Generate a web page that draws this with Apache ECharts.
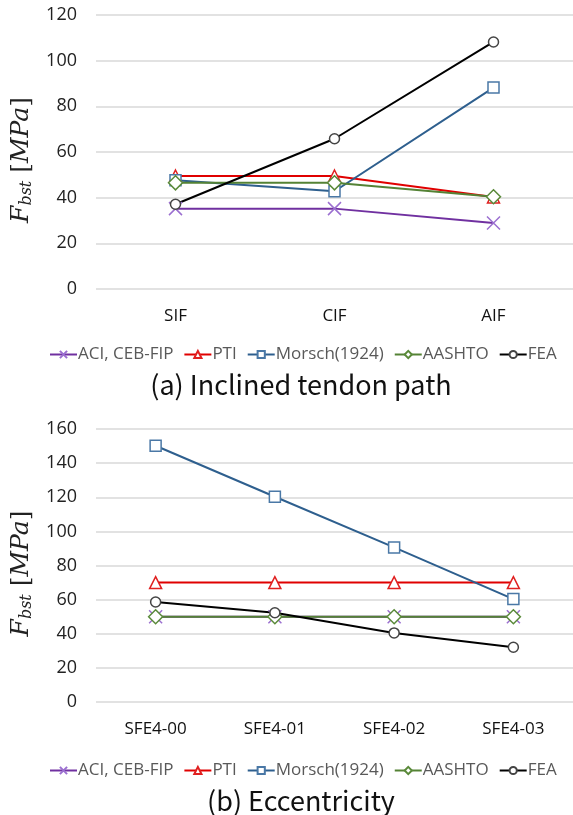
<!DOCTYPE html>
<html><head><meta charset="utf-8">
<script src="https://cdn.jsdelivr.net/npm/echarts@6/dist/echarts.min.js"></script>
<style>html,body{margin:0;padding:0;background:#fff}#c{width:573px;height:815px}</style>
</head><body><div id="c"></div>
<script>
const seriesNames = ['ACI, CEB-FIP', 'PTI', 'Morsch(1924)', 'AASHTO', 'FEA'];
const catsA = ['SIF', 'CIF', 'AIF'];
const catsB = ['SFE4-00', 'SFE4-01', 'SFE4-02', 'SFE4-03'];
const aci_A = [35.2, 35.2, 28.9];
const pti_A = [49.5, 49.5, 40.3];
const morsch_A = [47.6, 42.8, 88.2];
const aashto_A = [46.5, 46.5, 40.4];
const fea_A = [37.1, 65.8, 108.2];
const aci_B = [50, 50, 50, 50];
const pti_B = [70, 70, 70, 70];
const morsch_B = [150.2, 120.3, 90.6, 60.3];
const aashto_B = [50, 50, 50, 50];
const fea_B = [58.6, 52.3, 40.5, 32.1];
const yTicksA = {min: 0, max: 120, interval: 20};
const yTicksB = {min: 0, max: 160, interval: 20};
const captionA = '(a) Inclined tendon path';
const captionB = '(b) Eccentricity';

const styles = [
  {line: '#7030a0', border: '#9b6fd0', fill: 'transparent', symbol: 'path://M0,0L10,10M10,0L0,10', size: 13},
  {line: '#e00000', border: '#e02020', fill: '#ffffff', symbol: 'triangle', size: 12},
  {line: '#2e5f8e', border: '#4a78a6', fill: '#ffffff', symbol: 'rect', size: 11},
  {line: '#548235', border: '#5a8a3a', fill: '#ffffff', symbol: 'diamond', size: 14},
  {line: '#000000', border: '#444444', fill: '#ffffff', symbol: 'circle', size: 10}
];
const dataA = [aci_A, pti_A, morsch_A, aashto_A, fea_A];
const dataB = [aci_B, pti_B, morsch_B, aashto_B, fea_B];

function mk(i, data, gi) {
  const s = styles[i];
  return {
    name: seriesNames[i], type: 'line', xAxisIndex: gi, yAxisIndex: gi, data: data,
    symbol: s.symbol, symbolSize: s.size, showAllSymbol: true,
    lineStyle: {color: s.line, width: 2},
    itemStyle: {color: s.fill, borderColor: s.border, borderWidth: 1.5},
    emphasis: {disabled: true}, animation: false
  };
}
const series = [];
dataA.forEach((d, i) => series.push(mk(i, d, 0)));
dataB.forEach((d, i) => series.push(mk(i, d, 1)));

const yName = '{i|F}{s|bst}{n| [}{i|MPa}{n|]}';
const yRich = {
  i: {fontFamily: 'DejaVu Serif', fontStyle: 'italic', fontSize: 25, color: '#222'},
  s: {fontFamily: 'DejaVu Serif', fontStyle: 'italic', fontSize: 16, color: '#222', padding: [12, 0, 0, 0]},
  n: {fontFamily: 'DejaVu Serif', fontSize: 25, color: '#222'}
};
function yAx(gi, t) {
  return {
    type: 'value', gridIndex: gi, min: t.min, max: t.max, interval: t.interval,
    axisLine: {show: false}, axisTick: {show: false},
    axisLabel: {fontFamily: 'Open Sans', fontSize: 18, color: '#222', margin: 19},
    splitLine: {lineStyle: {color: '#d9d9d9', width: 1.5}},
    name: yName, nameLocation: 'middle', nameGap: 35, nameRotate: 90,
    nameTextStyle: {rich: yRich, padding: [0, 16, 0, 0]}
  };
}
function xAx(gi, cats) {
  return {
    type: 'category', gridIndex: gi, data: cats, boundaryGap: true,
    axisLine: {show: false}, axisTick: {show: false},
    axisLabel: {fontFamily: 'Open Sans', fontSize: 17, color: '#111', margin: 19}
  };
}
const legendCommon = {
  data: seriesNames, left: 44, itemWidth: 27, itemHeight: 9, itemGap: 10,
  textStyle: {fontFamily: 'Open Sans', fontSize: 17, color: '#595959', padding: [0, 0, 0, -4]},
  selectedMode: false
};
const chart = echarts.init(document.getElementById('c'), null, {renderer: 'canvas'});
chart.setOption({
  backgroundColor: '#fff',
  animation: false,
  grid: [
    {left: 96, width: 480, top: 15, height: 274},
    {left: 96, width: 480, top: 429, height: 273}
  ],
  xAxis: [xAx(0, catsA), xAx(1, catsB)],
  yAxis: [yAx(0, yTicksA), yAx(1, yTicksB)],
  legend: [
    Object.assign({top: 341}, legendCommon),
    Object.assign({top: 757}, legendCommon)
  ],
  title: [
    {text: captionA, left: 296, top: 366, textAlign: 'center',
     textStyle: {fontFamily: 'Noto Sans CJK KR', fontWeight: 'normal', fontSize: 27, color: '#111'}},
    {text: captionB, left: 296, top: 782, textAlign: 'center',
     textStyle: {fontFamily: 'Noto Sans CJK KR', fontWeight: 'normal', fontSize: 27, color: '#111'}}
  ],
  series: series
});
</script></body></html>
